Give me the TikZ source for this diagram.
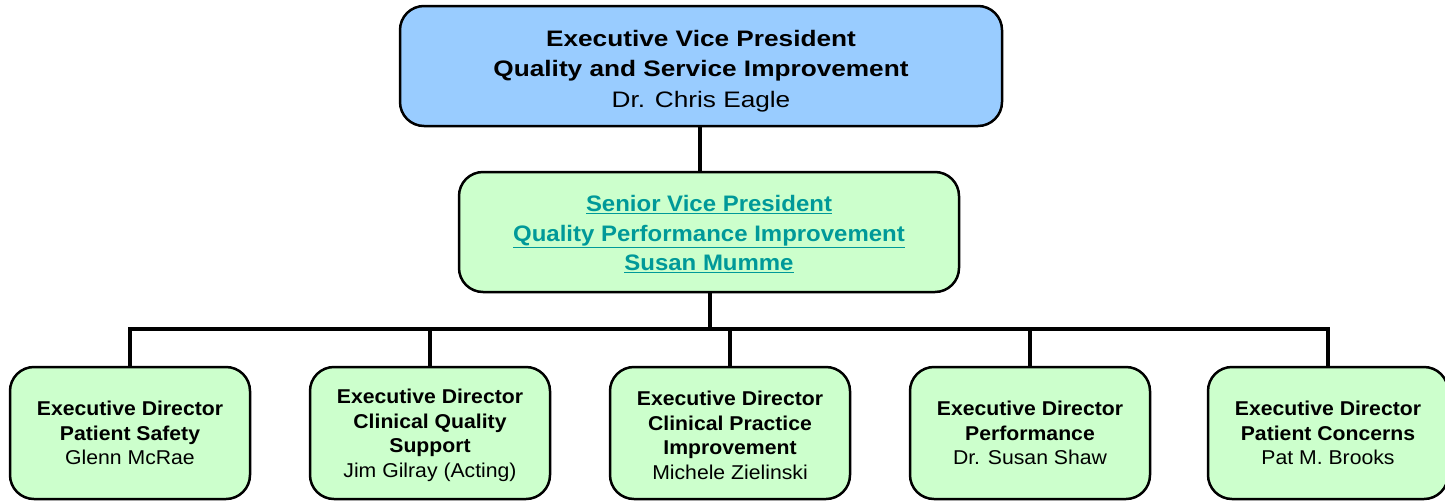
\documentclass[tikz,border=0pt]{standalone}
\usepackage{fontspec}
\setmainfont{Liberation Sans}
\newfontfamily\evpfont{Liberation Sans}[FakeStretch=1.17]
\newfontfamily\svpfont{Liberation Sans}[FakeStretch=1.07]
\newfontfamily\edfont{Liberation Sans}[FakeStretch=1.06]
\usepackage{tikz}
\usetikzlibrary{positioning,calc}
\definecolor{evpblue}{HTML}{99CCFF}
\definecolor{boxgreen}{HTML}{CCFFCC}
\definecolor{svpteal}{HTML}{009999}
\newcommand{\padtop}[1]{\rule{0pt}{#1}}
\tikzset{
  orgbox/.style={draw=black,line width=2.5pt,rounded corners=24pt,align=center,inner sep=0pt},
  topbox/.style={orgbox,fill=evpblue,minimum width=602pt,minimum height=120pt,
    font=\evpfont\fontsize{22.4}{30.5}\selectfont},
  midbox/.style={orgbox,fill=boxgreen,minimum width=500pt,minimum height=120pt,
    text=svpteal,font=\svpfont\fontsize{22.4}{29.5}\selectfont\bfseries},
  edbox/.style={orgbox,fill=boxgreen,minimum width=240pt,minimum height=132pt,
    font=\edfont\fontsize{20}{24.5}\selectfont},
  link/.style={line width=4pt,line cap=rect}
}
\begin{document}
\begin{tikzpicture}[x=1pt,y=-1pt]
\useasboundingbox (0,0) rectangle (1445,501);
% top of the chart
\node[topbox] (evp) at (701,66) {\padtop{26pt}\textbf{Executive Vice President}\\ \textbf{Quality and Service Improvement}\\ Dr. Chris Eagle};
\node[midbox] (svp) at (709,232) {\padtop{20.3pt}\underline{Senior Vice President}\\ \underline{Quality Performance Improvement}\\ \underline{Susan Mumme}};
% executive directors
\node[edbox] (safety) at (130,433) {\textbf{Executive Director}\\ \textbf{Patient Safety}\\ Glenn McRae};
\node[edbox] (clinq) at (430,433) {\padtop{19.6pt}\textbf{Executive Director}\\ \textbf{Clinical Quality}\\ \textbf{Support}\\ Jim Gilray (Acting)};
\node[edbox] (clinp) at (730,433) {\padtop{19.6pt}\textbf{Executive Director}\\ \textbf{Clinical Practice}\\ \textbf{Improvement}\\ Michele Zielinski};
\node[edbox] (perf) at (1030,433) {\textbf{Executive Director}\\ \textbf{Performance}\\ Dr. Susan Shaw};
\node[edbox] (concerns) at (1328,433) {\textbf{Executive Director}\\ \textbf{Patient Concerns}\\ Pat M. Brooks};
% connectors
\draw[link] ([xshift=-1pt]evp.south) -- ([xshift=-1pt]evp.south |- svp.north);
\coordinate (bus) at ($(svp.south)+(1,36)$);
\draw[link] ([xshift=1pt]svp.south) -- (bus);
\draw[link] (safety.north |- bus) -- (concerns.north |- bus);
\foreach \ed in {safety,clinq,clinp,perf,concerns}
  \draw[link] (\ed.north) -- (\ed.north |- bus);
\end{tikzpicture}
\end{document}
